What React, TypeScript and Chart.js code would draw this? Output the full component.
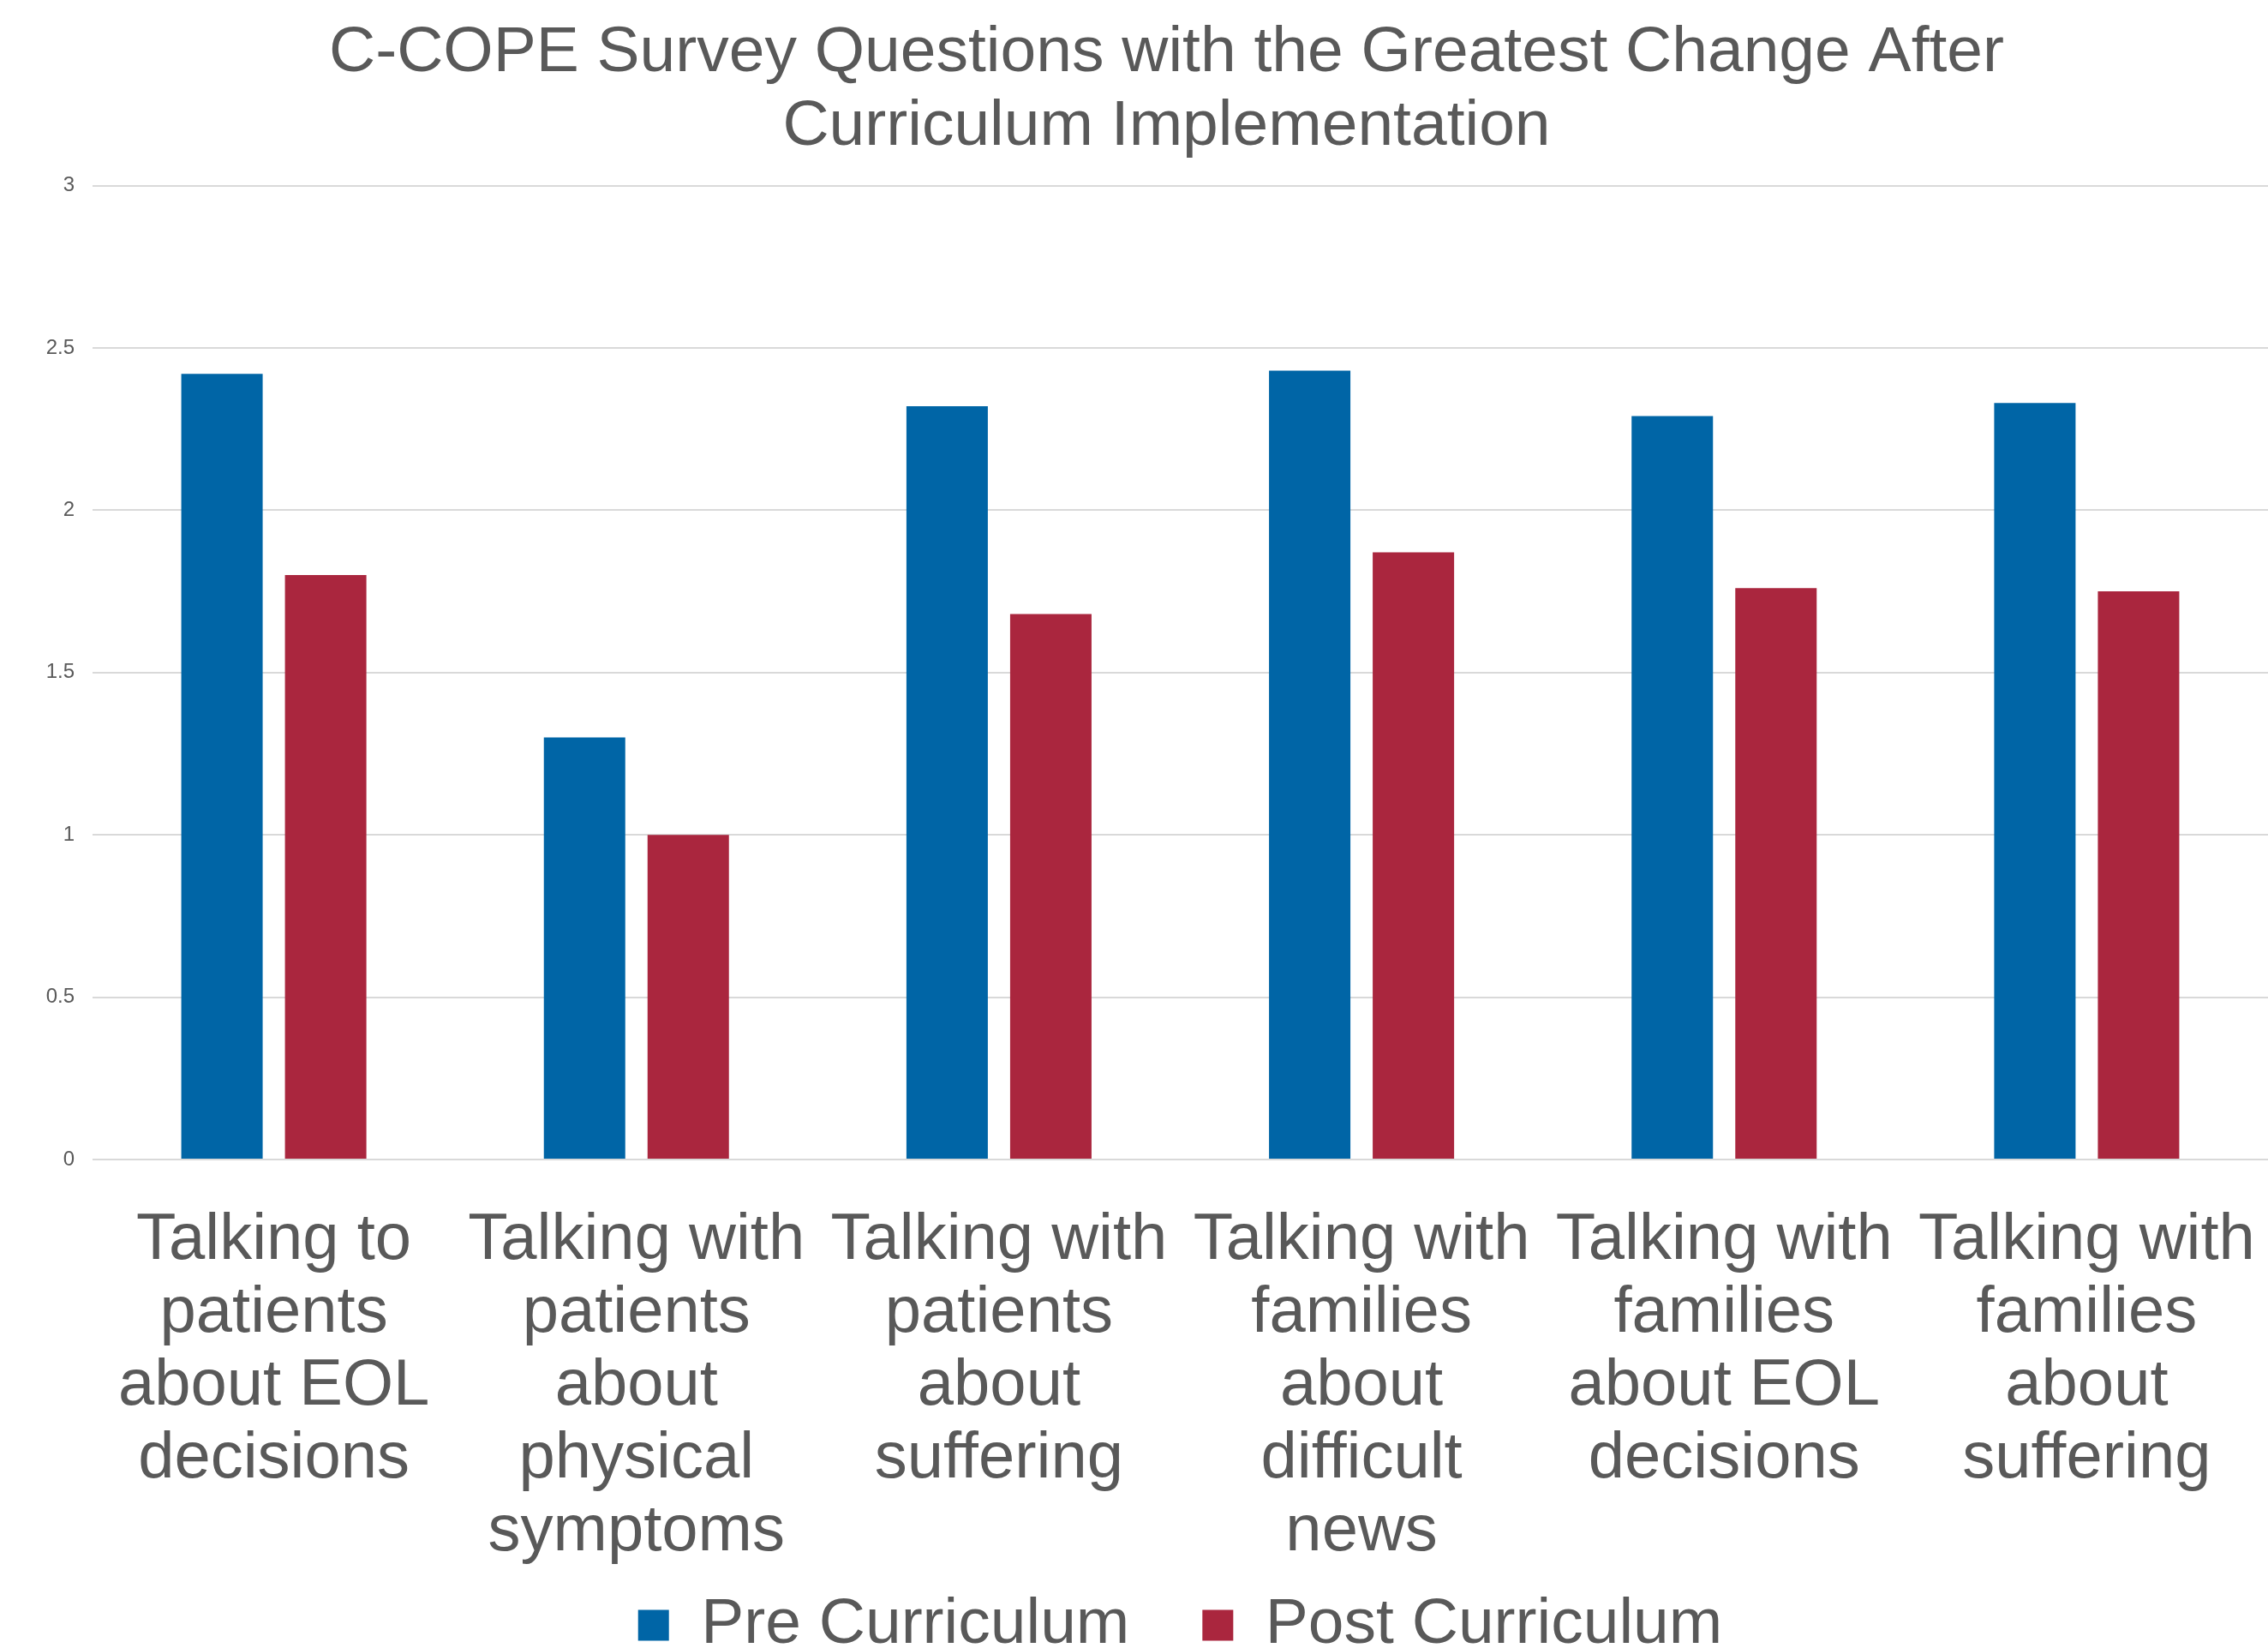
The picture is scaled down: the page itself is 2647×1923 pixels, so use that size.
import React, { useEffect, useRef } from "react";
import { Chart, registerables } from "chart.js";

Chart.register(...registerables);

const categories: string[][] = [
  ["Talking to", "patients", "about EOL", "decisions"],
  ["Talking with", "patients", "about", "physical", "symptoms"],
  ["Talking with", "patients", "about", "suffering"],
  ["Talking with", "families", "about", "difficult", "news"],
  ["Talking with", "families", "about EOL", "decisions"],
  ["Talking with", "families", "about", "suffering"],
];
const preCurriculum: number[] = [2.42, 1.3, 2.32, 2.43, 2.29, 2.33];
const postCurriculum: number[] = [1.8, 1.0, 1.68, 1.87, 1.76, 1.75];
const yTicks: number[] = [0, 0.5, 1, 1.5, 2, 2.5, 3];
const titleLines: string[] = [
  "C-COPE Survey Questions with the Greatest Change After",
  "Curriculum Implementation",
];

const W = 2647;
const H = 1923;
const TEXT = "#595959";
const FONT = "'Liberation Sans', Arial, sans-serif";

export default function App() {
  const ref = useRef<HTMLCanvasElement | null>(null);
  useEffect(() => {
    document.body.style.margin = "0";
    const chart = new Chart(ref.current as HTMLCanvasElement, {
      type: "bar",
      data: {
        labels: categories,
        datasets: [
          {
            label: "Pre Curriculum",
            data: preCurriculum,
            backgroundColor: "#0065A6",
            barPercentage: 0.785,
            categoryPercentage: 0.572,
          },
          {
            label: "Post Curriculum",
            data: postCurriculum,
            backgroundColor: "#AA263E",
            barPercentage: 0.785,
            categoryPercentage: 0.572,
          },
        ],
      },
      options: {
        responsive: false,
        animation: false,
        devicePixelRatio: 1,
        layout: { padding: { left: 76, right: 0, top: 0, bottom: 0 } },
        plugins: {
          title: {
            display: true,
            text: titleLines,
            color: TEXT,
            font: { family: FONT, size: 75, weight: "normal", lineHeight: 1.15 },
            padding: { top: 19, bottom: 25 },
          },
          legend: {
            display: true,
            position: "bottom",
            fullSize: false,
            maxHeight: 149,
            labels: {
              color: TEXT,
              font: { family: FONT, size: 75, lineHeight: 1.0 },
              boxWidth: 36,
              boxHeight: 36,
              padding: 85,
            },
          },
          tooltip: { enabled: false },
        },
        scales: {
          x: {
            afterFit: (scale: any) => {
              scale.height = 421;
              scale.paddingLeft = 0;
              scale.paddingRight = 0;
              scale._computeLabelArea = () => undefined;
            },
            grid: { display: false, drawTicks: false },
            border: { display: false },
            ticks: {
              color: TEXT,
              autoSkip: false,
              maxRotation: 0,
              minRotation: 0,
              padding: 52,
              font: { family: FONT, size: 76, lineHeight: 1.12 },
            },
          },
          y: {
            min: 0,
            max: 3,
            afterFit: (scale: any) => {
              scale.width = 32;
              scale.paddingTop = 0;
              scale.paddingBottom = 0;
              scale._computeLabelArea = () => undefined;
            },
            afterBuildTicks: (scale: any) => {
              scale.ticks = yTicks.map((v) => ({ value: v }));
            },
            grid: { color: "#D9D9D9", lineWidth: 2, drawTicks: false },
            border: { display: false },
            ticks: {
              color: TEXT,
              padding: 21,
              font: { family: FONT, size: 24 },
              callback: (v: any) => String(v),
            },
          },
        },
      },
    });
    return () => chart.destroy();
  }, []);
  return (
    <div style={{ position: "fixed", left: 0, top: 0, width: W, height: H, background: "#fff" }}>
      <canvas ref={ref} width={W} height={H} style={{ width: W, height: H, display: "block" }} />
    </div>
  );
}
